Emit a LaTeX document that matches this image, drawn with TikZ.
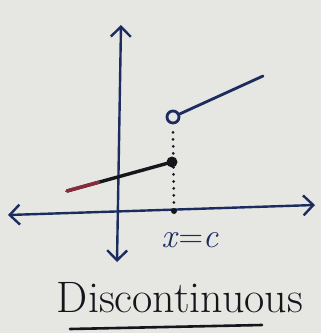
\documentclass[tikz,border=0pt]{standalone}
\usepackage{xcolor}
\usepackage{tikz}
\usetikzlibrary{positioning,arrows.meta,calc}
\definecolor{PaperGrey}{HTML}{E6E6E2}
\definecolor{InkBlue}{HTML}{1C2C5E}
\definecolor{InkBlack}{HTML}{15161C}
\definecolor{InkRed}{HTML}{8A2A3A}

\begin{document}
\begin{tikzpicture}[x=1pt,y=-1pt]
  \tikzset{
    paper/.style={fill=PaperGrey,draw=none},
    axisline/.style={
      {Straight Barb[length=10pt,width=20pt,line width=2.4pt]}-{Straight Barb[length=10pt,width=20pt,line width=2.4pt]},
      draw=InkBlue,
      line width=2.4pt
    },
    graphline/.style={draw=InkBlue,line width=2.8pt,line cap=round},
    lowline/.style={draw=InkBlack,line width=3.4pt,line cap=round},
    guideline/.style={draw=InkBlack,line width=3pt,dash pattern=on 0pt off 7pt,line cap=round},
    closeddot/.style={circle,fill=InkBlack,inner sep=0pt,minimum size=11pt},
    opendot/.style={circle,draw=InkBlue,fill=PaperGrey,line width=2.8pt,inner sep=0pt,minimum size=12pt},
    tickdot/.style={circle,fill=InkBlack,inner sep=0pt,minimum size=6pt},
    handlabel/.style={text=InkBlue,font=\fontsize{34}{34}\selectfont},
    handtitle/.style={text=InkBlack,font=\fontsize{44}{44}\selectfont}
  }

  % ------------------------------------------------------------------
  % paper and axes
  % ------------------------------------------------------------------
  \path[paper] (0,0) rectangle (321,333);
  \useasboundingbox (0,0) rectangle (321,333);

  \coordinate (xleft) at (8,215);
  \coordinate (xright) at (315,205);
  \coordinate (ytop) at (121,25);
  \coordinate (ybottom) at (117,262);

  \draw[axisline] (xleft) -- (xright);
  \draw[axisline] (ybottom) -- (ytop);

  % ------------------------------------------------------------------
  % the two pieces of the function
  % ------------------------------------------------------------------
  \coordinate (lowstart) at (67,191);
  \node[closeddot] (lowend) at (172,162) {};
  \node[opendot] (highstart) at (173,117) {};
  \coordinate (highend) at (263,76);
  \node[tickdot] (cpoint) at (174,211) {};

  \draw[guideline] ($(highstart.south)+(0,8)$) -- (cpoint);
  \draw[lowline] (lowstart) -- (lowend.center);
  \draw[lowline,draw=InkRed] (lowstart) -- ($(lowstart)!0.3!(lowend)$);
  \draw[graphline] (highstart) -- (highend);

  % labels
  \node[handlabel] (clabel) at (190,240) {\textit{x}=\textit{c}};
  \node[handtitle] (title) at (180,298) {Discontinuous};
  \coordinate (ulstart) at (70,329);
  \coordinate (ulend) at (262,325);
  \draw[lowline,line width=2.6pt] (ulstart) -- (ulend);
\end{tikzpicture}
\end{document}
